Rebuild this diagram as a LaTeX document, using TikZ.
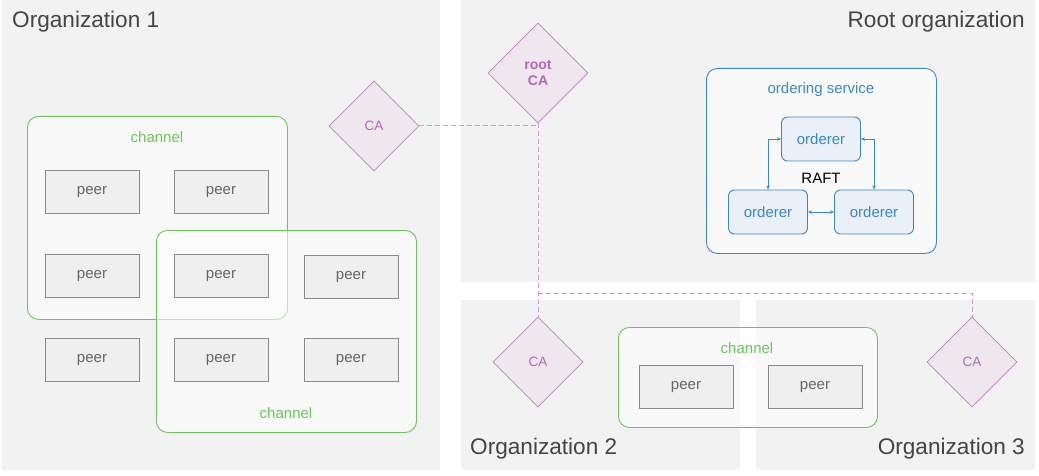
\documentclass[tikz,border=0pt]{standalone}
\usepackage{fontspec}
\setmainfont{Liberation Sans}
\usetikzlibrary{shapes.geometric,arrows.meta}
\definecolor{bggray}{HTML}{F2F2F2}
\definecolor{titlegray}{HTML}{444444}
\definecolor{chgreen}{HTML}{6CC35A}
\definecolor{peerfill}{HTML}{EFEFEF}
\definecolor{peerdraw}{HTML}{8A8A8A}
\definecolor{peertext}{HTML}{666666}
\definecolor{cafill}{HTML}{EEE7EE}
\definecolor{cadraw}{HTML}{C27EC8}
\definecolor{catext}{HTML}{B466B8}
\definecolor{dashpink}{HTML}{D596D8}
\definecolor{oblue}{HTML}{3C87C8}
\definecolor{ofill}{HTML}{E9F0F7}
\begin{document}
\begin{tikzpicture}[x=1pt,y=-1pt,
  orgbg/.style={fill=bggray,draw=none,inner sep=0pt,anchor=north west},
  title/.style={font=\fontsize{22.6}{26}\selectfont,text=titlegray,inner sep=0pt},
  chbox/.style={draw=chgreen,line width=0.9pt,fill=white,fill opacity=0.55,rounded corners=11pt,inner sep=0pt,anchor=north west},
  chlabel/.style={font=\fontsize{15}{17}\selectfont,text=chgreen,inner sep=0pt},
  peerbox/.style={draw=peerdraw,line width=0.9pt,fill=peerfill,minimum width=94pt,minimum height=43pt,inner sep=0pt,font=\fontsize{15}{17}\selectfont,text=peertext},
  cabox/.style={diamond,draw=cadraw,line width=0.8pt,fill=cafill,minimum width=90pt,minimum height=90pt,inner sep=0pt,aspect=1,font=\fontsize{13.5}{15}\selectfont,text=catext},
  cadash/.style={draw=dashpink,line width=1pt,dash pattern=on 5pt off 3pt},
  orderer/.style={draw=oblue,line width=0.9pt,fill=ofill,rounded corners=6pt,minimum width=79pt,minimum height=44pt,inner sep=0pt,font=\fontsize{15}{17}\selectfont,text=oblue},
  biarrow/.style={draw=oblue,line width=0.8pt,{Stealth[length=4pt,width=3.5pt]}-{Stealth[length=4pt,width=3.5pt]}}
]
\useasboundingbox (0,0) rectangle (1039,476);
\fill[white] (0,0) rectangle (1039,476);

% organisation backgrounds
\node[orgbg,minimum width=438pt,minimum height=470pt] (org1) at (2,0) {};
\node[orgbg,minimum width=574pt,minimum height=282pt] (rootorg) at (461,0) {};
\node[orgbg,minimum width=279pt,minimum height=170pt] (org2) at (461,300) {};
\node[orgbg,minimum width=279pt,minimum height=170pt] (org3) at (756,300) {};

\node[title,anchor=west] (t1) at (12,22) {Organization 1};
\node[title,anchor=east] (troot) at (1025,22) {Root organization};
\node[title,anchor=west] (t2) at (470,449) {Organization 2};
\node[title,anchor=east] (t3) at (1025,449) {Organization 3};

% channels in organization 1
\node[chbox,minimum width=260pt,minimum height=203pt] (ch1) at (27,116) {};
\node[chbox,minimum width=260pt,minimum height=202pt] (ch2) at (156,230) {};
\node[chlabel] (ch1l) at (157,137) {channel};
\node[chlabel] (ch2l) at (286,413) {channel};

\node[peerbox] (p11) at (92,192) {peer};
\node[peerbox] (p12) at (221,192) {peer};
\node[peerbox] (p21) at (92,276) {peer};
\node[peerbox] (p22) at (221,276) {peer};
\node[peerbox] (p23) at (351,277) {peer};
\node[peerbox] (p31) at (92,360) {peer};
\node[peerbox] (p32) at (221,360) {peer};
\node[peerbox] (p33) at (351,360) {peer};

% channel across org 2 and org 3
\node[chbox,minimum width=259pt,minimum height=100pt] (ch3) at (618,327) {};
\node[chlabel] (ch3l) at (747,348) {channel};
\node[peerbox] (p41) at (686,387) {peer};
\node[peerbox] (p42) at (815,387) {peer};

% ordering service
\node[draw=oblue,line width=0.9pt,fill=white,fill opacity=0.6,rounded corners=11pt,minimum width=230pt,minimum height=185pt,inner sep=0pt,anchor=north west] (os) at (706,68) {};
\node[font=\fontsize{15}{17}\selectfont,text=oblue,inner sep=0pt] (osl) at (821,90) {ordering service};
\node[orderer] (o1) at (821,139) {orderer};
\node[orderer] (o2) at (768,212) {orderer};
\node[orderer] (o3) at (874,212) {orderer};
\node[font=\fontsize{15}{17}\selectfont,text=black,inner sep=0pt] (raft) at (821,178) {RAFT};
\draw[biarrow] (o1.west) -| (o2.north);
\draw[biarrow] (o1.east) -| (o3.north);
\draw[biarrow] (o2.east) -- (o3.west);

% connectors from root CA
\coordinate (j) at (538,293);

% certificate authorities
\node[cabox,minimum width=100pt,minimum height=100pt,font=\bfseries\fontsize{14}{16}\selectfont,align=center] (rootca) at (538,73) {root\\CA};
\node[cabox] (ca1) at (374,126) {CA};
\node[cabox] (ca2) at (538,362) {CA};
\node[cabox] (ca3) at (972,362) {CA};

\draw[cadash] (ca1.east) -- (ca1.east -| rootca.south);
\draw[cadash] (rootca.south) -- (ca2.north);
\draw[cadash] (j) -| (ca3.north);
\end{tikzpicture}
\end{document}
